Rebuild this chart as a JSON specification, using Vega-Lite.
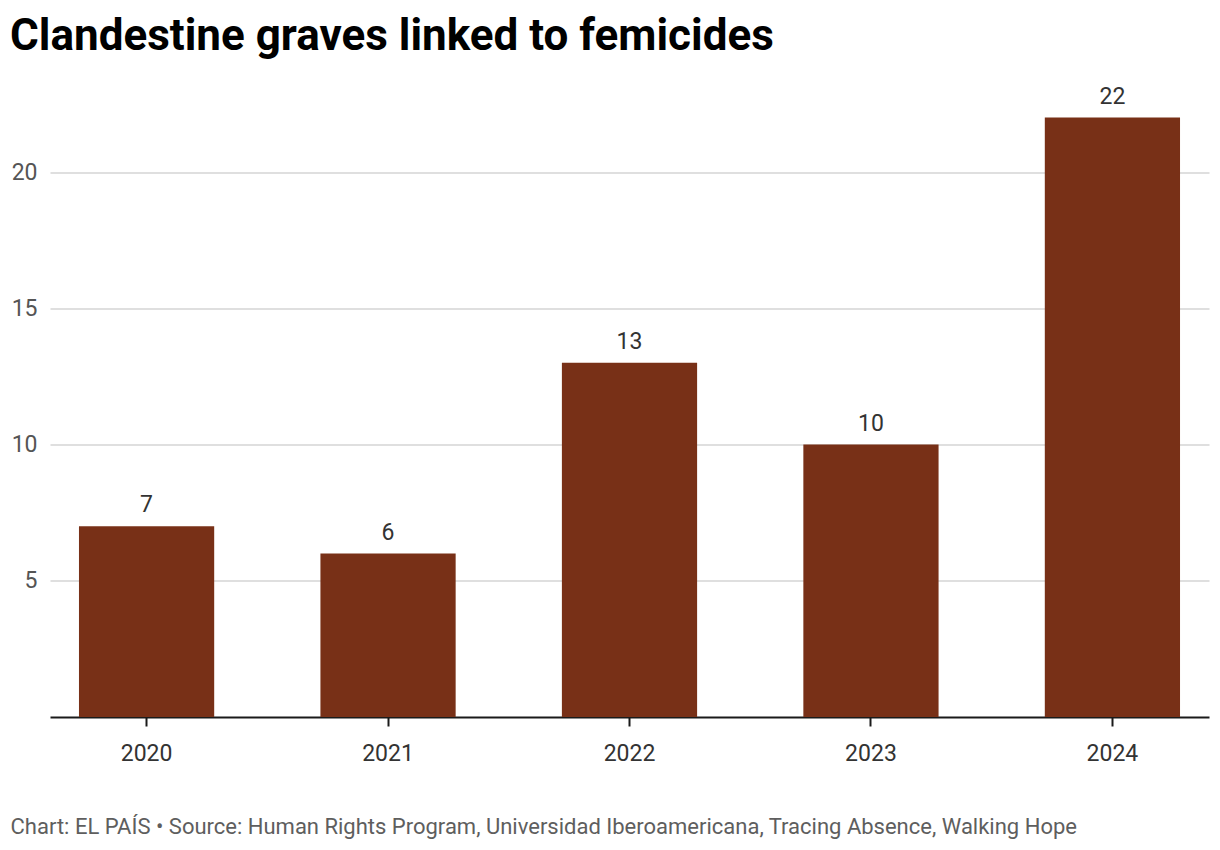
{
  "$schema": "https://vega.github.io/schema/vega-lite/v6.json",
  "autosize": {"type": "none"},
  "width": 1159,
  "height": 599.5,
  "padding": {"left": 50, "top": 117.5, "right": 11, "bottom": 133},
  "background": "white",
  "title": {
    "text": "Clandestine graves linked to femicides",
    "anchor": "start",
    "frame": "group",
    "dx": -40,
    "font": "Roboto",
    "fontSize": 44,
    "fontWeight": "bold",
    "color": "#000000",
    "baseline": "alphabetic",
    "offset": 0,
    "dy": 8
  },
  "data": {
    "values": [
      {"year": "2020", "graves": 7},
      {"year": "2021", "graves": 6},
      {"year": "2022", "graves": 13},
      {"year": "2023", "graves": 10},
      {"year": "2024", "graves": 22}
    ]
  },
  "encoding": {
    "x": {
      "field": "year",
      "type": "nominal",
      "sort": null,
      "scale": {"paddingInner": 0.44, "paddingOuter": 0.12},
      "axis": {
        "title": "Chart: EL PAÍS • Source: Human Rights Program, Universidad Iberoamericana, Tracing Absence, Walking Hope",
        "titleFont": "Roboto",
        "titleFontSize": 22,
        "titleFontWeight": "normal",
        "titleColor": "#5e5e5e",
        "titleAnchor": "start",
        "titleAlign": "left",
        "titleBaseline": "alphabetic",
        "titleX": -40,
        "titleY": 116,
        "labelAngle": 0,
        "labelFont": "Roboto",
        "labelFontSize": 23,
        "labelColor": "#333333",
        "labelPadding": 16,
        "domainColor": "#1a1a1a",
        "domainWidth": 2,
        "tickColor": "#1a1a1a",
        "tickWidth": 2,
        "tickSize": 9,
        "grid": false
      }
    },
    "y": {
      "field": "graves",
      "type": "quantitative",
      "scale": {"domain": [0, 22], "nice": false},
      "axis": {
        "title": null,
        "values": [5, 10, 15, 20],
        "labelFont": "Roboto",
        "labelFontSize": 23,
        "labelColor": "#555555",
        "labelPadding": 13,
        "domain": false,
        "ticks": false,
        "grid": true,
        "gridColor": "#d4d4d4",
        "gridWidth": 1.5
      }
    }
  },
  "layer": [
    {"mark": {"type": "bar", "color": "#783017"}},
    {
      "mark": {
        "type": "text",
        "font": "Roboto",
        "fontSize": 23,
        "color": "#333333",
        "baseline": "alphabetic",
        "dy": -14
      },
      "encoding": {"text": {"field": "graves", "type": "quantitative"}}
    }
  ],
  "config": {"view": {"stroke": null}}
}
